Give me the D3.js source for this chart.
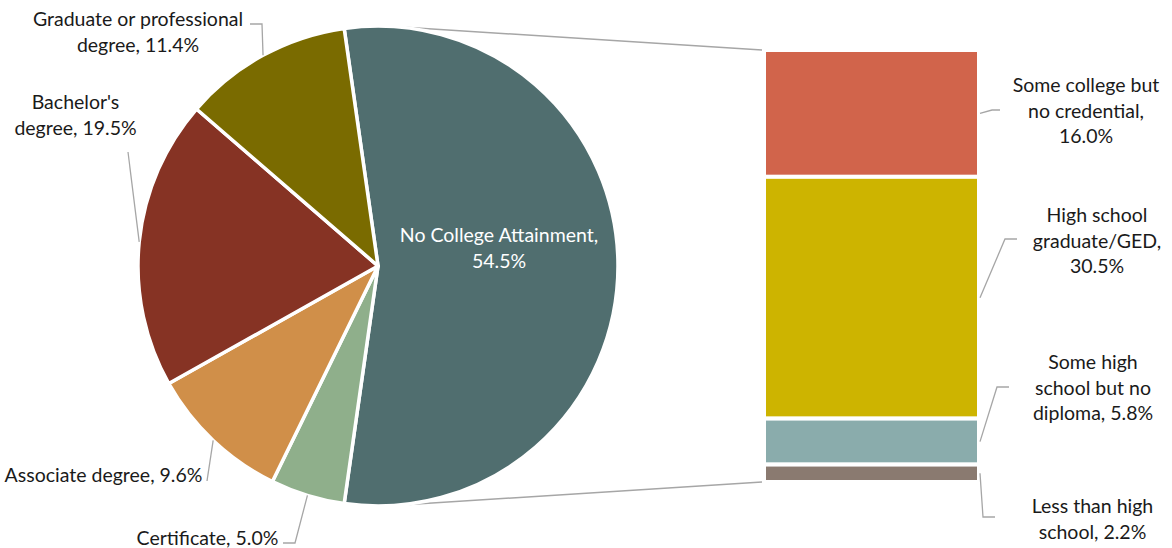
<!DOCTYPE html>
<html>
<head>
<meta charset="utf-8">
<script src="https://cdn.jsdelivr.net/npm/d3@7"></script>
<style>
  html, body { margin: 0; padding: 0; background: #fff; }
  svg { display: block; }
</style>
</head>
<body>
<div id="chart"></div>
<script>
// Pie: main categories (clockwise from the split slice)
const pieLabels = ['No College Attainment', 'Certificate', 'Associate degree', "Bachelor's degree", 'Graduate or professional degree'];
const pieValues = [54.5, 5.0, 9.6, 19.5, 11.4];

// Bar: breakdown of "No College Attainment" (top to bottom)
const barLabels = ['Some college but no credential', 'High school graduate/GED', 'Some high school but no diploma', 'Less than high school'];
const barValues = [16.0, 30.5, 5.8, 2.2];

const pieColors = ['#506e6f', '#8faf8b', '#d08f49', '#863324', '#7a6b00'];
const barColors = ['#d1644b', '#cdb400', '#8aacac', '#8a7a70'];

const width = 1172, height = 548;
const cx = 378, cy = 266, radius = 240;
const barX0 = 764, barX1 = 979, barTop = 50, barBottom = 482;
const lineColor = '#a6a6a6';
const textColor = '#1a1a1a';
const font = "Lato, 'Noto Sans', sans-serif";
const fontSize = 19.5;
const lineH = 25.5;

const svg = d3.select('#chart').append('svg')
  .attr('width', width).attr('height', height)
  .style('font-family', font);

const fmt = d3.format('.1f');

// Pie setup: split slice centred on the right (Excel pie-of-pie style)
const total = d3.sum(pieValues);
const start = Math.PI / 2 - (pieValues[0] / total) * Math.PI;
const pie = d3.pie().sort(null).startAngle(start).endAngle(start + 2 * Math.PI);
const arcs = pie(pieValues);
const arc = d3.arc().innerRadius(0).outerRadius(radius);

// Bar scale
const y = d3.scaleLinear().domain([0, d3.sum(barValues)]).range([barTop, barBottom]);
let acc = 0;
const barData = barValues.map((v, i) => {
  const d = { label: barLabels[i], value: v, y0: acc, y1: acc + v, color: barColors[i] };
  acc += v;
  return d;
});

// Connector lines: tangents from bar corners to pie circle
function tangent(px, py, upper) {
  const dx = px - cx, dy = py - cy;
  const d = Math.hypot(dx, dy);
  const th = Math.atan2(dy, dx);
  const a = Math.acos(radius / d);
  const t = upper ? th - a : th + a;
  return [cx + radius * Math.cos(t), cy + radius * Math.sin(t)];
}
const connectors = [
  [tangent(barX0 - 2, y(0), true), [barX0 - 2, y(0)]],
  [tangent(barX0 - 2, y(d3.sum(barValues)), false), [barX0 - 2, y(d3.sum(barValues))]]
];
svg.append('g').selectAll('line').data(connectors).join('line')
  .attr('x1', d => d[0][0]).attr('y1', d => d[0][1])
  .attr('x2', d => d[1][0]).attr('y2', d => d[1][1])
  .attr('stroke', lineColor).attr('stroke-width', 1.5);

// Pie slices
svg.append('g')
  .attr('transform', `translate(${cx},${cy})`)
  .selectAll('path').data(arcs).join('path')
  .attr('d', arc)
  .attr('fill', (d, i) => pieColors[i])
  .attr('stroke', '#fff')
  .attr('stroke-width', 3.5)
  .attr('stroke-linejoin', 'round');

// Bar segments
svg.append('g').selectAll('rect').data(barData).join('rect')
  .attr('x', barX0)
  .attr('y', d => y(d.y0))
  .attr('width', barX1 - barX0)
  .attr('height', d => y(d.y1) - y(d.y0))
  .attr('fill', d => d.color)
  .attr('stroke', '#fff')
  .attr('stroke-width', 4);

// Label layout (text lines, centre x, first baseline, leader elbow points)
const pieLabelLayout = [
  { lines: ['No College Attainment,', fmt(pieValues[0]) + '%'], x: 499, y: 242, fill: '#fff' },
  { lines: ['Certificate, ' + fmt(pieValues[1]) + '%'], x: 207.5, y: 545, leader: [[283, 543], [295, 543]] },
  { lines: ['Associate degree, ' + fmt(pieValues[2]) + '%'], x: 103.5, y: 482, leader: [[207, 481]] },
  { lines: ["Bachelor's", 'degree, ' + fmt(pieValues[3]) + '%'], x: 75.5, y: 109, leader: [[128, 152]] },
  { lines: ['Graduate or professional', 'degree, ' + fmt(pieValues[4]) + '%'], x: 138, y: 26, leader: [[250, 24], [262, 24]] }
];
const barLabelLayout = [
  { lines: ['Some college but', 'no credential,', fmt(barValues[0]) + '%'], x: 1086, y: 92, leader: [[1000, 110], [992, 110]] },
  { lines: ['High school', 'graduate/GED,', fmt(barValues[1]) + '%'], x: 1097, y: 222, leader: [[1017, 239], [1005, 239]] },
  { lines: ['Some high', 'school but no', 'diploma, ' + fmt(barValues[2]) + '%'], x: 1093, y: 369, leader: [[1009, 387], [997, 387]] },
  { lines: ['Less than high', 'school, ' + fmt(barValues[3]) + '%'], x: 1092.5, y: 513, leader: [[995, 517], [983, 517]] }
];

const leaderLine = d3.line();

// Pie leaders end on the arc at each slice's mid angle
arcs.forEach((a, i) => {
  const L = pieLabelLayout[i];
  if (!L.leader) return;
  const mid = (a.startAngle + a.endAngle) / 2;
  const end = [cx + radius * Math.sin(mid), cy - radius * Math.cos(mid)];
  svg.append('path')
    .attr('d', leaderLine([...L.leader, end]))
    .attr('fill', 'none').attr('stroke', lineColor).attr('stroke-width', 1.3);
});

// Bar leaders end at the right edge of each segment's middle
barData.forEach((d, i) => {
  const L = barLabelLayout[i];
  const end = [barX1 + 1, y((d.y0 + d.y1) / 2)];
  svg.append('path')
    .attr('d', leaderLine([...L.leader, end]))
    .attr('fill', 'none').attr('stroke', lineColor).attr('stroke-width', 1.3);
});

// Text labels
[...pieLabelLayout, ...barLabelLayout].forEach(L => {
  const t = svg.append('text')
    .attr('text-anchor', 'middle')
    .attr('font-size', fontSize)
    .attr('fill', L.fill || textColor);
  L.lines.forEach((s, j) => {
    t.append('tspan').attr('x', L.x).attr('y', L.y + j * lineH).text(s);
  });
});
</script>
</body>
</html>
